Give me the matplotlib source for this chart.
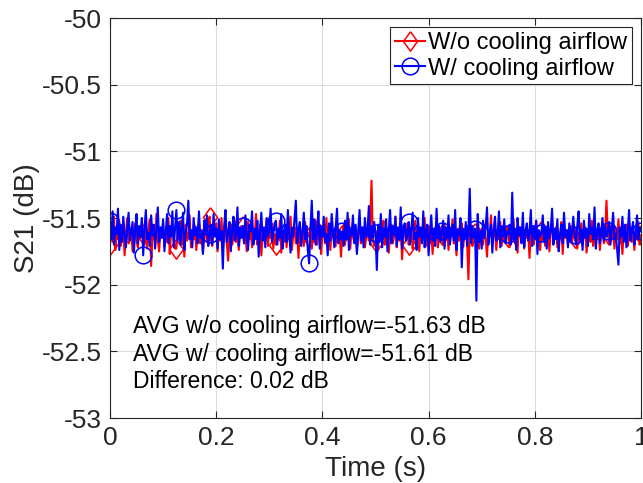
import numpy as np
import matplotlib.pyplot as plt

plt.rcParams['font.family'] = ['Liberation Sans', 'DejaVu Sans']

# time axis: 401 samples over 1 s
t_end = 1.0
n_samples = 401

# S21 without cooling airflow (dB)
s21_no_air = [
    -51.70, -51.55, -51.68, -51.49, -51.74, -51.60, -51.66, -51.52, -51.71, -51.63, -51.57, -51.78, -51.61, -51.50, -51.69, -51.64, -51.58, -51.75, -51.62, -51.54, -51.67, -51.72, -51.59, -51.65, -51.53,
    -51.62, -51.70, -51.56, -51.73, -51.60, -51.51, -51.86, -51.64, -51.58, -51.69, -51.47, -51.66, -51.75, -51.59, -51.63, -51.54, -51.71, -51.60, -51.68, -51.50, -51.77, -51.62, -51.57, -51.65, -51.73,
    -51.73, -51.58, -51.64, -51.52, -51.70, -51.61, -51.79, -51.55, -51.67, -51.63, -51.48, -51.72, -51.60, -51.66, -51.56, -51.74, -51.62, -51.51, -51.69, -51.59, -51.76, -51.64, -51.57, -51.68, -51.53,
    -51.49, -51.66, -51.71, -51.58, -51.62, -51.54, -51.75, -51.60, -51.67, -51.50, -51.73, -51.63, -51.57, -51.69, -51.82, -51.61, -51.55, -51.70, -51.64, -51.52, -51.68, -51.59, -51.74, -51.62, -51.56,
    -51.56, -51.69, -51.61, -51.75, -51.53, -51.66, -51.60, -51.72, -51.58, -51.64, -51.47, -51.70, -51.62, -51.55, -51.78, -51.63, -51.59, -51.67, -51.51, -51.71, -51.60, -51.65, -51.54, -51.73, -51.62,
    -51.70, -51.58, -51.64, -51.52, -51.76, -51.61, -51.68, -51.55, -51.72, -51.60, -51.66, -51.49, -51.74, -51.63, -51.57, -51.69, -51.62, -51.80, -51.56, -51.65, -51.59, -51.71, -51.53, -51.67, -51.61,
    -51.64, -51.57, -51.73, -51.60, -51.68, -51.52, -51.70, -51.62, -51.55, -51.77, -51.63, -51.58, -51.69, -51.50, -51.66, -51.61, -51.74, -51.56, -51.65, -51.59, -51.71, -51.54, -51.67, -51.62, -51.79,
    -51.63, -51.55, -51.70, -51.60, -51.66, -51.51, -51.73, -51.58, -51.64, -51.68, -51.56, -51.75, -51.61, -51.53, -51.69, -51.62, -51.57, -51.72, -51.65, -51.59, -51.67, -51.54, -51.22, -51.66, -51.71,
    -51.68, -51.60, -51.74, -51.56, -51.65, -51.61, -51.52, -51.70, -51.63, -51.58, -51.76, -51.62, -51.55, -51.69, -51.64, -51.49, -51.72, -51.60, -51.67, -51.57, -51.81, -51.63, -51.59, -51.66, -51.54,
    -51.70, -51.61, -51.57, -51.73, -51.64, -51.52, -51.68, -51.60, -51.75, -51.58, -51.65, -51.62, -51.50, -51.71, -51.63, -51.56, -51.69, -51.59, -51.77, -51.61, -51.66, -51.53, -51.72, -51.62, -51.58,
    -51.63, -51.70, -51.55, -51.66, -51.60, -51.74, -51.57, -51.64, -51.51, -51.69, -51.62, -51.78, -51.58, -51.67, -51.61, -51.54, -51.72, -51.63, -51.59, -51.68, -51.96, -51.60, -51.56, -51.71, -51.64,
    -51.61, -51.67, -51.52, -51.73, -51.62, -51.58, -51.70, -51.55, -51.65, -51.79, -51.60, -51.64, -51.48, -51.69, -51.63, -51.57, -51.74, -51.61, -51.66, -51.53, -51.71, -51.59, -51.68, -51.62, -51.56,
    -51.64, -51.72, -51.58, -51.66, -51.51, -51.69, -51.61, -51.76, -51.57, -51.63, -51.67, -51.54, -51.73, -51.60, -51.65, -51.59, -51.80, -51.62, -51.56, -51.70, -51.63, -51.52, -51.68, -51.61, -51.74,
    -51.60, -51.66, -51.55, -51.71, -51.63, -51.58, -51.75, -51.61, -51.50, -51.68, -51.64, -51.57, -51.72, -51.62, -51.66, -51.53, -51.77, -51.60, -51.65, -51.59, -51.70, -51.63, -51.56, -51.69, -51.61,
    -51.65, -51.58, -51.73, -51.61, -51.67, -51.54, -51.70, -51.62, -51.57, -51.76, -51.63, -51.59, -51.68, -51.52, -51.71, -51.64, -51.60, -51.66, -51.55, -51.74, -51.62, -51.58, -51.69, -51.61, -51.37,
    -51.62, -51.70, -51.56, -51.65, -51.60, -51.73, -51.58, -51.66, -51.51, -51.69, -51.63, -51.77, -51.59, -51.64, -51.55, -51.71, -51.62, -51.57, -51.68, -51.61, -51.74, -51.60, -51.66, -51.53, -51.70,
    -51.63,
]

# S21 with cooling airflow (dB)
s21_air = [
    -51.52, -51.66, -51.45, -51.70, -51.57, -51.62, -51.43, -51.74, -51.55, -51.68, -51.49, -51.63, -51.72, -51.58, -51.46, -51.67, -51.60, -51.53, -51.76, -51.59, -51.47, -51.69, -51.56, -51.64, -51.50,
    -51.78, -51.58, -51.44, -51.66, -51.61, -51.71, -51.48, -51.63, -51.55, -51.73, -51.59, -51.42, -51.68, -51.57, -51.65, -51.51, -51.75, -51.60, -51.47, -51.69, -51.56, -51.64, -51.45, -51.72, -51.58,
    -51.44, -51.67, -51.53, -51.70, -51.58, -51.46, -51.74, -51.61, -51.55, -51.37, -51.66, -51.59, -51.72, -51.50, -51.63, -51.57, -51.69, -51.45, -51.65, -51.60, -51.77, -51.52, -51.62, -51.48, -51.71,
    -51.62, -51.55, -51.70, -51.47, -51.64, -51.58, -51.73, -51.51, -51.66, -51.60, -51.88, -51.56, -51.44, -51.68, -51.61, -51.53, -51.75, -51.59, -51.49, -51.67, -51.63, -51.42, -51.71, -51.57, -51.65,
    -51.56, -51.69, -51.48, -51.63, -51.74, -51.55, -51.60, -51.45, -51.70, -51.58, -51.66, -51.52, -51.79, -51.61, -51.46, -51.67, -51.57, -51.72, -51.50, -51.64, -51.59, -51.43, -51.68, -51.62, -51.54,
    -51.52, -51.70, -51.58, -51.65, -51.47, -51.73, -51.60, -51.55, -51.68, -51.44, -51.62, -51.76, -51.57, -51.64, -51.50, -51.37, -51.69, -51.59, -51.53, -51.71, -51.61, -51.46, -51.66, -51.56, -51.74,
    -51.84, -51.58, -51.37, -51.66, -51.51, -51.70, -51.60, -51.45, -51.73, -51.56, -51.64, -51.49, -51.68, -51.62, -51.78, -51.54, -51.67, -51.47, -51.61, -51.72, -51.57, -51.43, -51.69, -51.59, -51.65,
    -51.60, -51.71, -51.52, -51.66, -51.46, -51.74, -51.58, -51.63, -51.48, -51.69, -51.55, -51.77, -51.61, -51.44, -51.67, -51.57, -51.72, -51.50, -51.64, -51.59, -51.41, -51.70, -51.56, -51.65, -51.53,
    -51.61, -51.89, -51.55, -51.68, -51.47, -51.72, -51.58, -51.64, -51.51, -51.75, -51.60, -51.44, -51.69, -51.56, -51.63, -51.49, -51.71, -51.57, -51.66, -51.42, -51.73, -51.59, -51.54, -51.67, -51.62,
    -51.53, -51.70, -51.58, -51.46, -51.66, -51.61, -51.74, -51.50, -51.64, -51.57, -51.69, -51.45, -51.72, -51.60, -51.55, -51.78, -51.62, -51.48, -51.67, -51.58, -51.71, -51.43, -51.65, -51.56, -51.68,
    -51.60, -51.52, -51.73, -51.57, -51.65, -51.48, -51.70, -51.62, -51.55, -51.67, -51.44, -51.74, -51.59, -51.63, -51.50, -51.87, -51.58, -51.66, -51.53, -51.71, -51.61, -51.28, -51.69, -51.56, -51.64,
    -51.58, -52.12, -51.47, -51.68, -51.60, -51.73, -51.52, -51.65, -51.57, -51.42, -51.70, -51.61, -51.55, -51.76, -51.59, -51.49, -51.67, -51.63, -51.45, -51.72, -51.56, -51.64, -51.51, -51.69, -51.60,
    -51.62, -51.55, -51.70, -51.31, -51.66, -51.58, -51.74, -51.50, -51.63, -51.57, -51.69, -51.46, -51.72, -51.60, -51.54, -51.67, -51.61, -51.44, -51.71, -51.56, -51.65, -51.52, -51.77, -51.59, -51.64,
    -51.61, -51.48, -51.68, -51.57, -51.73, -51.53, -51.65, -51.60, -51.43, -51.70, -51.58, -51.66, -51.51, -51.75, -51.62, -51.55, -51.69, -51.46, -51.64, -51.59, -51.72, -51.54, -51.67, -51.61, -51.49,
    -51.63, -51.70, -51.56, -51.45, -51.68, -51.60, -51.74, -51.52, -51.65, -51.58, -51.71, -51.47, -51.62, -51.57, -51.66, -51.42, -51.73, -51.59, -51.54, -51.69, -51.61, -51.50, -51.67, -51.56, -51.64,
    -51.60, -51.53, -51.70, -51.58, -51.46, -51.66, -51.62, -51.74, -51.85, -51.57, -51.64, -51.49, -51.68, -51.55, -51.72, -51.61, -51.44, -51.67, -51.59, -51.53, -51.70, -51.63, -51.48, -51.65, -51.57,
    -51.60,
]

labels = ['W/o cooling airflow', 'W/ cooling airflow']
notes = ['AVG w/o cooling airflow=-51.63 dB',
         'AVG w/ cooling airflow=-51.61 dB',
         'Difference: 0.02 dB']

t = np.linspace(0, t_end, n_samples)

# MATLAB-like diamond (a bit taller than wide)
diamond = [(0, 1), (0.72, 0), (0, -1), (-0.72, 0), (0, 1)]

fig = plt.figure(figsize=(6.43, 4.83), dpi=100)
ax = fig.add_axes([110/643, 65/483, 531/643, 400/483])

ax.plot(t, s21_no_air, color='#ff0000', lw=1.5, marker=diamond, ms=14,
        mfc='none', mew=1.1, markevery=25, label=labels[0])
ax.plot(t, s21_air, color='#0000ff', lw=1.5, marker='o', ms=12,
        mfc='none', mew=1.1, markevery=25, label=labels[1])

ax.set_xlim(0, 1)
ax.set_ylim(-53, -50)
ax.set_xticks(np.arange(0, 1.01, 0.2))
ax.set_xticklabels(['0', '0.2', '0.4', '0.6', '0.8', '1'])
ax.set_yticks(np.arange(-53, -49.9, 0.5))
ax.set_yticklabels(['-53', '-52.5', '-52', '-51.5', '-51', '-50.5', '-50'])

ax.grid(True, color='#dcdcdc', lw=0.8)
ax.set_axisbelow(True)
ax.tick_params(direction='in', top=True, right=True, length=5, width=0.8,
               colors='#262626', labelsize=19, pad=6)
for sp in ax.spines.values():
    sp.set_color('#262626')
    sp.set_linewidth(0.8)

ax.set_xlabel('Time (s)', fontsize=20, color='#262626', labelpad=4)
ax.set_ylabel('S21 (dB)', fontsize=20, color='#262626', labelpad=1)

leg = ax.legend(loc='upper right', fontsize=17, frameon=True, fancybox=False,
                edgecolor='#262626', framealpha=1, handlelength=1.3,
                handletextpad=0.1, borderpad=0.2, labelspacing=0.15,
                borderaxespad=0.4)
leg.get_frame().set_linewidth(0.8)

for y, s in zip([-52.31, -52.52, -52.73], notes):
    ax.text(0.043, y, s, fontsize=16.5, va='center', ha='left', color='black')

fig.savefig('out.png', dpi=100)
